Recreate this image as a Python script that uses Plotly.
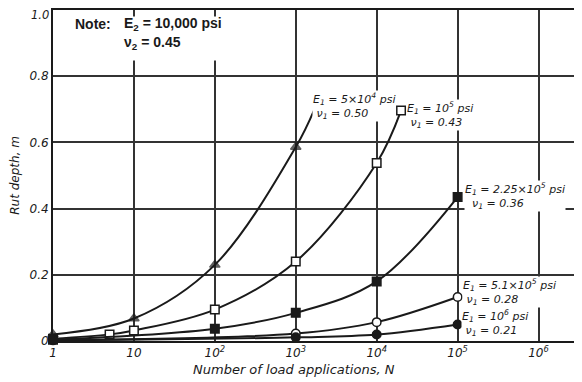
import plotly.graph_objects as go

# ---------------- data ----------------
N_a = [1, 10, 100, 1000, 1700]
rut_a = [0.02, 0.068, 0.23, 0.586, 0.70]          # E1 = 5x10^4 psi, triangles

N_b = [1, 5, 10, 100, 1000, 10000, 20000]
rut_b = [0.007, 0.02, 0.032, 0.095, 0.24, 0.538, 0.696]   # E1 = 10^5 psi, open squares

N_c = [1, 100, 1000, 10000, 100000]
rut_c = [0.004, 0.037, 0.085, 0.18, 0.435]        # E1 = 2.25x10^5 psi, filled squares

N_d = [1, 1000, 10000, 100000]
rut_d = [0.003, 0.0225, 0.057, 0.133]             # E1 = 5.1x10^5 psi, open circles

N_e = [1, 1000, 10000, 100000]
rut_e = [0.002, 0.011, 0.0195, 0.05]              # E1 = 10^6 psi, filled circles

x_tickvals = [1, 10, 100, 1000, 10000, 100000, 1000000]
x_ticktext = ["1", "10", "10<sup>2</sup>", "10<sup>3</sup>", "10<sup>4</sup>",
              "10<sup>5</sup>", "10<sup>6</sup>"]
y_tickvals = [0, 0.2, 0.4, 0.6, 0.8]
y_ticktext = ["0", "0.2", "0.4", "0.6", "0.8"]
y_top_label = "1.0"

labels = [
    ("E<sub>1</sub> = 5×10<sup>4</sup> psi<br> ν<sub>1</sub> = 0.50", 312, 106),
    ("E<sub>1</sub> = 10<sup>5</sup> psi<br> ν<sub>1</sub> = 0.43", 406, 115),
    ("E<sub>1</sub> = 2.25×10<sup>5</sup> psi<br>  ν<sub>1</sub> = 0.36", 464, 196),
    ("E<sub>1</sub> = 5.1×10<sup>5</sup> psi<br> ν<sub>1</sub> = 0.28", 462, 292),
    ("E<sub>1</sub> = 10<sup>6</sup> psi<br> ν<sub>1</sub> = 0.21", 461, 323),
]

# ---------------- layout geometry (window pixels) ----------------
WIN_W, WIN_H = 582, 382
OFF = 8                      # page body margin
FIG_W, FIG_H = WIN_W - OFF, WIN_H - OFF
L, R, T, B = 53, 579, 10, 341.5
PW, PH = R - L, B - T


def px(x):
    return (x - L) / PW


def py(y):
    return (B - y) / PH


INK = "#1a1a1a"
FONT = "DejaVu Sans"
NOTE_FONT = "Liberation Sans"

fig = go.Figure()


def add_series(N, y, symbol, fill, sizes=None):
    fig.add_trace(go.Scatter(
        x=N, y=y, mode="lines+markers",
        line=dict(color=INK, width=2, shape="spline", smoothing=1.0),
        marker=dict(symbol=symbol, color=fill, size=sizes if sizes else 8.5,
                    line=dict(color=INK, width=1.5)),
        showlegend=False, cliponaxis=False,
    ))


add_series(N_a, rut_a, "triangle-up", INK, [9, 9, 9, 9, 0])
add_series(N_b, rut_b, "square", "white")
add_series(N_c, rut_c, "square", INK)
add_series(N_d, rut_d, "circle", "white")
add_series(N_e, rut_e, "circle", INK)

annotations = []
for text, x, y in labels:
    annotations.append(dict(
        text=text, x=px(x), y=py(y), xref="paper", yref="paper",
        xanchor="left", yanchor="middle", align="left", showarrow=False,
        font=dict(family=FONT, size=11, color=INK, style="italic"),
        bgcolor="white", borderpad=0,
    ))

# top y tick label (kept as annotation so it is not hidden at the page edge)
annotations.append(dict(text=y_top_label, x=px(51), y=py(15), xref="paper", yref="paper",
                        xanchor="right", yanchor="middle", showarrow=False,
                        font=dict(family=FONT, size=11.5, color=INK, style="italic")))

# white box behind the note (hides the grid there)
annotations.append(dict(text="", x=px(64), y=py(16), xref="paper", yref="paper",
                        xanchor="left", yanchor="top", showarrow=False,
                        width=172, height=43, bgcolor="white", borderpad=0))
annotations.append(dict(text="<b>Note:</b>", x=px(73), y=py(24), xref="paper", yref="paper",
                        xanchor="left", yanchor="middle", showarrow=False,
                        font=dict(family=NOTE_FONT, size=14, color=INK)))
annotations.append(dict(text="<b>E<sub>2</sub> = 10,000 psi</b>", x=px(122), y=py(24),
                        xref="paper", yref="paper", xanchor="left", yanchor="middle",
                        showarrow=False, font=dict(family=NOTE_FONT, size=14, color=INK)))
annotations.append(dict(text="<b>ν<sub>2</sub> = 0.45</b>", x=px(122), y=py(43),
                        xref="paper", yref="paper", xanchor="left", yanchor="middle",
                        showarrow=False, font=dict(family=NOTE_FONT, size=14, color=INK)))

# axis titles
annotations.append(dict(text="Number of load applications, N", x=px(294), y=py(370),
                        xref="paper", yref="paper", xanchor="center", yanchor="middle",
                        showarrow=False,
                        font=dict(family=FONT, size=13, color=INK, style="italic")))
annotations.append(dict(text="Rut depth, m", x=px(15), y=py(176), textangle=-90,
                        xref="paper", yref="paper", xanchor="center", yanchor="middle",
                        showarrow=False,
                        font=dict(family=FONT, size=12, color=INK, style="italic")))

fig.update_layout(
    width=FIG_W, height=FIG_H,
    margin=dict(l=L - OFF, r=FIG_W - (R - OFF), t=T - OFF, b=FIG_H - (B - OFF),
                pad=0, autoexpand=False),
    paper_bgcolor="white", plot_bgcolor="white",
    annotations=annotations,
    xaxis=dict(type="log", range=[0, 6.5], tickvals=x_tickvals, ticktext=x_ticktext,
               showgrid=True, gridcolor="#333333", gridwidth=1.5,
               showline=True, linecolor=INK, linewidth=2, mirror=True,
               ticks="", zeroline=False, automargin=False,
               tickfont=dict(family=FONT, size=12, color=INK, style="italic")),
    yaxis=dict(range=[0, 1.0], tickvals=y_tickvals, ticktext=y_ticktext,
               showgrid=True, gridcolor="#333333", gridwidth=1.5,
               showline=True, linecolor=INK, linewidth=2, mirror=True,
               ticks="", zeroline=False, automargin=False,
               tickfont=dict(family=FONT, size=12, color=INK, style="italic")),
)

fig.write_html("out.html")
